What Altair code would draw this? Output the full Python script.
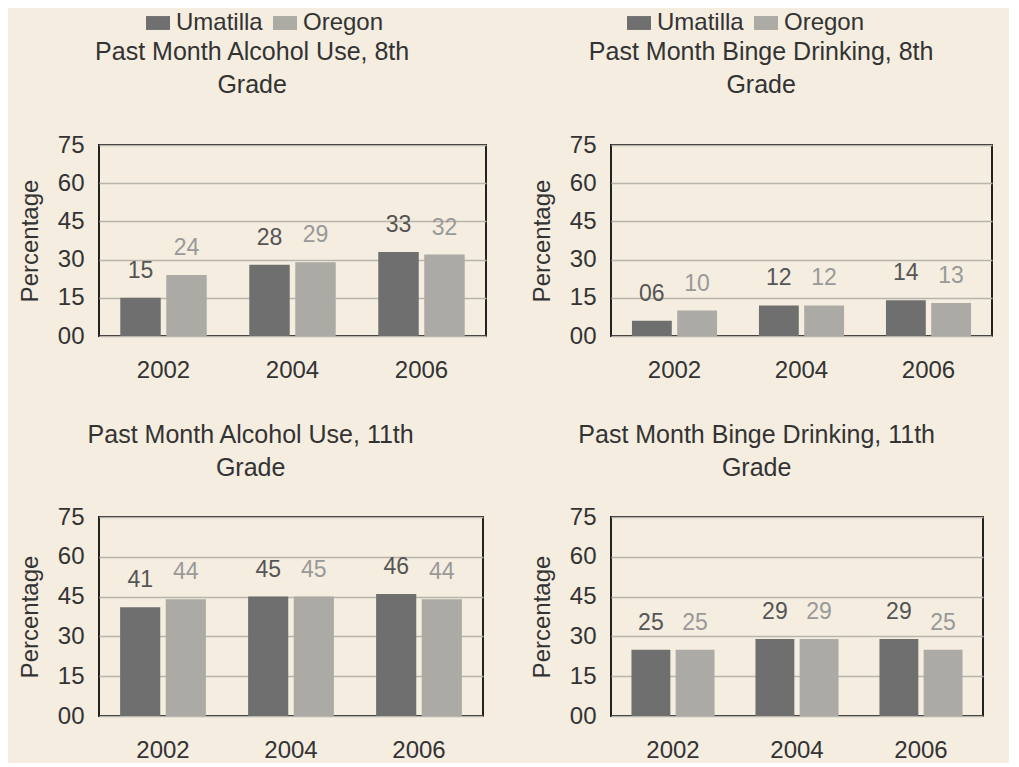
import altair as alt
import pandas as pd

years = ["2002", "2004", "2006"]
series = ["Umatilla", "Oregon"]

alc8_umatilla = [15, 28, 33]
alc8_oregon = [24, 29, 32]
binge8_umatilla = [6, 12, 14]
binge8_oregon = [10, 12, 13]
alc11_umatilla = [41, 45, 46]
alc11_oregon = [44, 45, 44]
binge11_umatilla = [25, 29, 29]
binge11_oregon = [25, 29, 25]

title_alc8 = ["Past Month Alcohol Use, 8th", "Grade"]
title_binge8 = ["Past Month Binge Drinking, 8th", "Grade"]
title_alc11 = ["Past Month Alcohol Use, 11th", "Grade"]
title_binge11 = ["Past Month Binge Drinking, 11th", "Grade"]
y_ticks = [0, 15, 30, 45, 60, 75]

FONT = "Liberation Sans"
TEXT = "#333333"
BAR_COLORS = ["#6f6f6f", "#abaaa5"]


def frame(u, o):
    rows = []
    for yr, a, b in zip(years, u, o):
        rows.append({"Year": yr, "Series": "Umatilla", "Value": a})
        rows.append({"Year": yr, "Series": "Oregon", "Value": b})
    return pd.DataFrame(rows)


def panel(u, o, title, width, height, legend_x=None, title_offset=24):
    df = frame(u, o)
    base = alt.Chart(df).encode(
        x=alt.X("Year:N", sort=years, title=None,
                scale=alt.Scale(paddingInner=0.33, paddingOuter=0.165),
                axis=alt.Axis(labelAngle=0, labelPadding=22, ticks=False,
                              domain=False, grid=False)),
        xOffset=alt.XOffset("Series:N", sort=series,
                            scale=alt.Scale(paddingInner=0.12, paddingOuter=0)),
        y=alt.Y("Value:Q", title="Percentage",
                scale=alt.Scale(domain=[0, 75], nice=False),
                axis=alt.Axis(values=y_ticks, format="02d", ticks=False,
                              domain=False, labelPadding=15, titlePadding=15,
                              grid=True)),
    )
    if legend_x is not None:
        legend = alt.Legend(orient="none", legendX=legend_x, legendY=-134,
                            direction="horizontal", title=None,
                            symbolType="M-1,-0.58H1V0.58H-1Z", symbolSize=576,
                            symbolStrokeWidth=0, symbolOpacity=1,
                            labelOffset=6, columnPadding=10, padding=0)
        color = alt.Color("Series:N", sort=series,
                          scale=alt.Scale(domain=series, range=BAR_COLORS),
                          legend=legend)
    else:
        color = alt.Color("Series:N", sort=series,
                          scale=alt.Scale(domain=series, range=BAR_COLORS),
                          legend=None)
    bars = base.mark_bar().encode(color=color)
    labels = base.mark_text(baseline="bottom", dy=-15, fontSize=23, font=FONT).encode(
        text=alt.Text("Value:Q", format="02d"),
        color=alt.condition("datum.Series === 'Umatilla'",
                            alt.value("#555555"), alt.value("#999999")),
    )
    return alt.layer(bars, labels).properties(
        width=width, height=height,
        title=alt.TitleParams(title, offset=title_offset, anchor="middle",
                              frame="bounds", fontSize=25, font=FONT,
                              fontWeight="normal", color=TEXT, lineHeight=33),
    )


tl = panel(alc8_umatilla, alc8_oregon, title_alc8, 387, 191, legend_x=47, title_offset=-87)
tr = panel(binge8_umatilla, binge8_oregon, title_binge8, 381, 191, legend_x=16, title_offset=-87)
bl = panel(alc11_umatilla, alc11_oregon, title_alc11, 384, 199, title_offset=24)
br = panel(binge11_umatilla, binge11_oregon, title_binge11, 372, 199, title_offset=24)

chart = alt.concat(
    tl, tr, bl, br, columns=2, align="none",
    spacing={"row": 39, "column": 42},
).resolve_scale(
    x="independent", y="independent", xOffset="independent", color="independent"
).properties(
    padding={"left": 9, "top": 2, "right": 16, "bottom": 0},
    background="#f4ede0",
).configure_view(
    stroke="#222222", strokeWidth=2
).configure_axis(
    labelFont=FONT, labelFontSize=24, labelColor=TEXT,
    titleFont=FONT, titleFontSize=24, titleColor=TEXT, titleFontWeight="normal",
    gridColor="#b8b5ad", gridWidth=1.5,
).configure_legend(
    labelFont=FONT, labelFontSize=24, labelColor=TEXT,
)

chart.save("out.html", embed_options={"renderer": "svg", "actions": False})
